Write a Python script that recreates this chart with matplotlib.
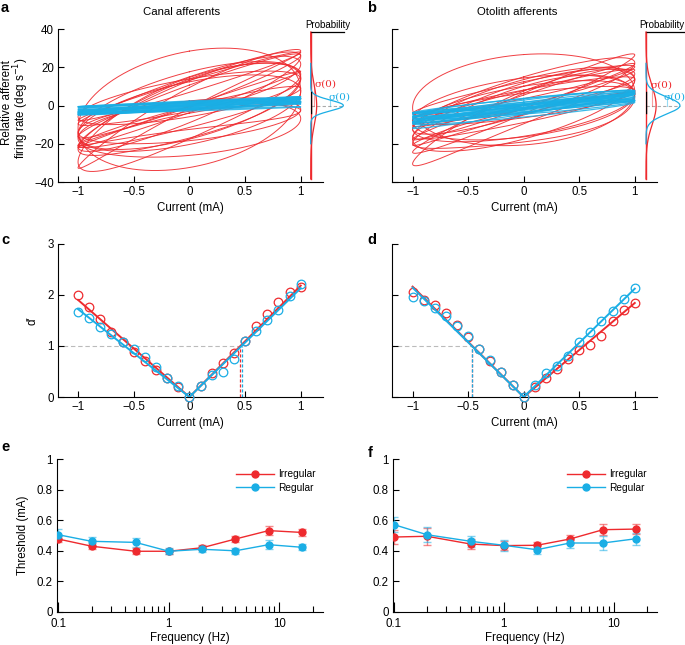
import numpy as np
import matplotlib
matplotlib.use("Agg")
import matplotlib.pyplot as plt

plt.rcParams['font.family'] = ['Liberation Sans', 'DejaVu Sans']
FS = 8.3
plt.rcParams['font.size'] = FS

RED = '#EE2A2E'
BLUE = '#1AAEE5'

# ---------------- data ----------------
# loop parameters (gain, phase deg, bias, 2nd-harmonic gain, 2nd-harmonic phase deg)
canal_irr_gain = [32, 31, 26, 24, 22, 20, 18, 16, 14, 28, 12, 20, 10, 23, 15, 18]
canal_irr_phase = [72, 10, 25, 40, 15, 55, 30, 20, 45, 35, 60, 5, 25, 50, 70, 10]
canal_irr_bias = [-2, 1, 2, -3, 5, -4, 6, -6, 4, -4, -8, -2, -10, 0, -12, 10]
canal_irr_h2 = [0, 3, 0, 2, 0, 0, 2, 0, 0, 3, 0, 0, 2, 0, 0, 0]
canal_irr_h2phase = [0, 90, 0, 45, 0, 0, 0, 0, 0, 120, 0, 0, 60, 0, 0, 0]

canal_reg_gain = [3, 2.5, 4, 2, 3.5, 1.5, 3, 2.8, 4.2, 2.2, 3.3, 1.8, 3.8, 2.6]
canal_reg_phase = [10, 15, 8, 20, 12, 25, 18, 5, 15, 10, 22, 12, 20, 8]
canal_reg_bias = [0, -1, 0.5, -0.5, -1.5, 0.5, 1, -2, -0.5, 1.5, -1, -2.5, 0, 2]

oto_irr_gain = [24, 25, 20, 18, 15, 22, 12, 16, 20, 14, 10, 26, 17, 13, 19]
oto_irr_phase = [80, 20, 10, 35, 15, 45, 25, 55, 30, 5, 40, 12, 65, 20, 50]
oto_irr_bias = [3, -4, 2, 0, 4, -2, 3, -3, 5, -5, 0, 1, -1, 8, -6]
oto_irr_h2 = [0, 3, 0, 2, 0, 0, 0, 0, 0, 2, 0, 0, 0, 0, 3]
oto_irr_h2phase = [0, 90, 0, 45, 0, 0, 0, 0, 0, 120, 0, 0, 0, 0, 30]

oto_reg_gain = [6, 7, 5, 8, 4, 9, 6.5, 5.5, 7.5, 4.5, 8.5, 6, 5, 7, 3.5, 6]
oto_reg_phase = [10, 15, 8, 20, 12, 10, 25, 5, 18, 22, 8, 15, 30, 5, 10, 20]
oto_reg_bias = [0, -2, 1, -1, 0, -3, 1, -3, 0.5, -1.5, -1, 2, -2, -0.5, -0.5, -4]

# probability distributions at zero current: sigma, peak height (fraction of inset)
canal_sigma_irr, canal_sigma_reg = 10.0, 2.8
canal_peak_irr, canal_peak_reg = 0.18, 0.98
oto_sigma_irr, oto_sigma_reg = 10.0, 4.5
oto_peak_irr, oto_peak_reg = 0.26, 0.87

# d' vs current
current = [-1.0, -0.9, -0.8, -0.7, -0.6, -0.5, -0.4, -0.3, -0.2, -0.1, 0.0,
           0.1, 0.2, 0.3, 0.4, 0.5, 0.6, 0.7, 0.8, 0.9, 1.0]
canal_d_irr = [2.0, 1.77, 1.52, 1.28, 1.08, 0.89, 0.70, 0.52, 0.37, 0.20, 0.0,
               0.21, 0.46, 0.66, 0.87, 1.09, 1.38, 1.62, 1.85, 2.05, 2.16]
canal_d_reg = [1.67, 1.54, 1.37, 1.23, 1.07, 0.94, 0.78, 0.58, 0.37, 0.21, 0.0,
               0.21, 0.44, 0.49, 0.75, 1.10, 1.30, 1.50, 1.71, 1.97, 2.21]
oto_d_irr = [2.05, 1.90, 1.80, 1.64, 1.41, 1.17, 0.94, 0.71, 0.48, 0.23, 0.0,
             0.19, 0.37, 0.55, 0.75, 0.92, 1.01, 1.19, 1.48, 1.71, 1.84]
oto_d_reg = [1.95, 1.88, 1.74, 1.58, 1.39, 1.19, 0.94, 0.72, 0.48, 0.24, 0.0,
             0.24, 0.46, 0.60, 0.81, 1.07, 1.28, 1.48, 1.69, 1.92, 2.14]
# fitted slopes (negative side, positive side)
canal_slope_irr = (1.90, 2.18)
canal_slope_reg = (1.72, 2.13)
oto_slope_irr = (2.16, 1.84)
oto_slope_reg = (2.14, 2.12)

# threshold vs frequency
freq = [0.1, 0.2, 0.5, 1, 2, 4, 8, 16]
canal_thr_irr = [0.477, 0.430, 0.397, 0.397, 0.420, 0.477, 0.532, 0.520]
canal_err_irr = [0.020, 0.020, 0.020, 0.015, 0.015, 0.020, 0.030, 0.025]
canal_thr_reg = [0.505, 0.462, 0.455, 0.397, 0.410, 0.400, 0.440, 0.423]
canal_err_reg = [0.035, 0.030, 0.030, 0.020, 0.020, 0.020, 0.030, 0.020]
oto_thr_irr = [0.490, 0.495, 0.444, 0.434, 0.436, 0.477, 0.538, 0.542]
oto_err_irr = [0.045, 0.055, 0.035, 0.030, 0.020, 0.025, 0.035, 0.035]
oto_thr_reg = [0.571, 0.505, 0.462, 0.436, 0.407, 0.451, 0.451, 0.479]
oto_err_reg = [0.050, 0.050, 0.035, 0.035, 0.030, 0.035, 0.045, 0.040]

# ---------------- figure ----------------
W, H = 685, 645
fig = plt.figure(figsize=(W / 100, H / 100), dpi=100)


def ax_px(l, t, r, b):
    return fig.add_axes([l / W, 1 - b / H, (r - l) / W, (b - t) / H])


def style(ax, ticklen=4.5):
    for s in ('top', 'right'):
        ax.spines[s].set_visible(False)
    for s in ('left', 'bottom'):
        ax.spines[s].set_linewidth(0.8)
    ax.tick_params(direction='in', length=ticklen, width=0.8, pad=3, labelsize=FS)


xt = [-1, -0.5, 0, 0.5, 1]
xtl = ['\u22121', '\u22120.5', '0', '0.5', '1']

t = np.linspace(0, 2 * np.pi, 300)


def draw_loops(ax, gain, phase, bias, color, h2=None, h2p=None, lw=0.8, alpha=0.9, z=2):
    for i in range(len(gain)):
        ph = np.deg2rad(phase[i])
        y = bias[i] + gain[i] * np.sin(t + ph)
        if h2 is not None:
            y = y + h2[i] * np.sin(2 * t + np.deg2rad(h2p[i]))
        ax.plot(np.sin(t), y, color=color, lw=lw, alpha=alpha, zorder=z)


def prob_inset(l, r, sig_i, sig_r, pk_i, pk_r):
    ia = ax_px(l, 29, r, 182)
    ia.set_xlim(0, 1)
    ia.set_ylim(-40, 40)
    ia.axis('off')
    top = 38.4
    ia.plot([0, 0], [-top, top], color=RED, lw=1.0, clip_on=False, zorder=2)
    ia.plot([0, 1], [top, top], color='black', lw=0.9, clip_on=False)
    yy = np.linspace(-top, top, 400)
    ia.plot(pk_i * np.exp(-yy ** 2 / (2 * sig_i ** 2)), yy, color=RED, lw=0.9, clip_on=False, zorder=3)
    yb = np.linspace(-20, 22, 400)
    ia.plot(pk_r * np.exp(-yb ** 2 / (2 * sig_r ** 2)), yb, color=BLUE, lw=0.9, clip_on=False, zorder=4)
    ia.plot([0, 0], [-4, 7], color='black', lw=1.0, zorder=5)
    ia.plot([0, pk_r], [0, 0], color='#AAAAAA', lw=0.8, ls=(0, (3, 2)), clip_on=False, zorder=1)
    xi = pk_i * np.exp(-0.5)
    xr = pk_r * np.exp(-0.5)
    ia.plot([xi, xi], [0, sig_i], color=RED, lw=0.8, alpha=0.45)
    ia.plot([xr, xr], [0, sig_r], color=BLUE, lw=0.8, alpha=0.45)
    return ia


# ----- panel a -----
axa = ax_px(58, 29, 323, 182)
draw_loops(axa, canal_irr_gain, canal_irr_phase, canal_irr_bias, RED, canal_irr_h2, canal_irr_h2phase, lw=0.7, alpha=0.9, z=2)
draw_loops(axa, canal_reg_gain, canal_reg_phase, canal_reg_bias, BLUE, lw=0.9, alpha=0.85, z=3)
axa.set_xlim(-1.18, 1.2)
axa.set_ylim(-40, 40)
axa.set_yticks([-40, -20, 0, 20, 40])
axa.set_yticklabels(['\u221240', '\u221220', '0', '20', '40'])
axa.set_xticks(xt)
axa.set_xticklabels(xtl)
style(axa)
axa.set_xlabel('Current (mA)', fontsize=FS, labelpad=3)
fig.text(7.0 / W, 1 - 103 / H, 'Relative afferent', rotation=90,
         ha='center', va='center', fontsize=8.4)
fig.text(21.5 / W, 1 - 108 / H, 'firing rate (deg s$^{\u22121}$)', rotation=90,
         ha='center', va='center', fontsize=8.4)
ia = prob_inset(310.7, 344, canal_sigma_irr, canal_sigma_reg, canal_peak_irr, canal_peak_reg)
fig.text(327.5 / W, 1 - 24.5 / H, 'Probability', ha='center', va='center', fontsize=7)
ia.text(0.43, 11.2, '\u03c3(0)', color=RED, ha='center', va='center', fontsize=7.5, family=['DejaVu Serif'])
ia.text(0.85, 4.4, '\u03c3(0)', color=BLUE, ha='center', va='center', fontsize=7.5, family=['DejaVu Serif'])

# ----- panel b -----
axb = ax_px(391.5, 29, 657, 182)
draw_loops(axb, oto_irr_gain, oto_irr_phase, oto_irr_bias, RED, oto_irr_h2, oto_irr_h2phase, lw=0.7, alpha=0.9, z=2)
draw_loops(axb, oto_reg_gain, oto_reg_phase, oto_reg_bias, BLUE, lw=0.9, alpha=0.85, z=3)
axb.set_xlim(-1.19, 1.2)
axb.set_ylim(-40, 40)
axb.set_yticks([-40, -20, 0, 20, 40])
axb.set_yticklabels([])
axb.set_xticks(xt)
axb.set_xticklabels(xtl)
style(axb)
axb.set_xlabel('Current (mA)', fontsize=FS, labelpad=3)
ib = prob_inset(646, 685, oto_sigma_irr, oto_sigma_reg, oto_peak_irr, oto_peak_reg)
fig.text(684 / W, 1 - 24.5 / H, 'Probability', ha='right', va='center', fontsize=7)
ib.text(0.41, 10.5, '\u03c3(0)', color=RED, ha='center', va='center', fontsize=7.5, family=['DejaVu Serif'])
ib.text(0.74, 4.4, '\u03c3(0)', color=BLUE, ha='center', va='center', fontsize=7.5, family=['DejaVu Serif'])


# ----- panels c, d -----
def dprime(ax, d_irr, d_reg, s_irr, s_reg, side):
    cur = np.array(current)
    for d, s, c, z in ((d_irr, s_irr, RED, 3), (d_reg, s_reg, BLUE, 4)):
        ax.plot(cur, d, 'o', mfc='none', mec=c, ms=6.2, mew=0.9, clip_on=False, zorder=z)
        ax.plot([-1, 0], [s[0], 0], color=c, lw=1.4, zorder=z)
        ax.plot([0, 1], [0, s[1]], color=c, lw=1.4, zorder=z)
    thr_i = 1 / s_irr[side] * (1 if side == 1 else -1)
    thr_r = 1 / s_reg[side] * (1 if side == 1 else -1)
    far = max(abs(thr_i), abs(thr_r)) * np.sign(thr_i)
    ax.plot([-1.2, far], [1, 1], color='#BBBBBB', lw=0.8, ls=(0, (4, 2.5)), zorder=1)
    ax.plot([thr_i, thr_i], [0, 1], color=RED, lw=0.9, ls=(0, (2.5, 1.5)), zorder=2)
    ax.plot([thr_r, thr_r], [0, 1], color=BLUE, lw=0.9, ls=(0, (2.5, 1.5)), zorder=2)
    ax.set_ylim(0, 3)
    ax.set_xticks(xt)
    ax.set_xticklabels(xtl)
    ax.set_yticks([0, 1, 2, 3])
    style(ax)
    ax.set_xlabel('Current (mA)', fontsize=FS, labelpad=3)


axc = ax_px(58, 243.7, 323, 397)
axc.set_xlim(-1.18, 1.2)
dprime(axc, canal_d_irr, canal_d_reg, canal_slope_irr, canal_slope_reg, 1)
axc.set_ylabel('d\u2032', fontsize=FS)
axc.yaxis.set_label_coords(-0.075, 0.5)

axd = ax_px(391.5, 243.7, 657, 397)
axd.set_xlim(-1.19, 1.2)
dprime(axd, oto_d_irr, oto_d_reg, oto_slope_irr, oto_slope_reg, 0)
axd.set_yticklabels([])


# ----- panels e, f -----
def thresh(ax, ti, ei, tr, er, lx):
    for th, er_, c, lab in ((ti, ei, RED, 'Irregular'), (tr, er, BLUE, 'Regular')):
        ax.errorbar(freq, th, yerr=er_, fmt='none', ecolor=c, alpha=0.55, elinewidth=1.0,
                    capsize=2.8, capthick=1.0, zorder=2)
        ax.plot(freq, th, '-o', color=c, lw=1.0, ms=5, label=lab, zorder=3)
    ax.set_xscale('log')
    ax.set_ylim(0, 1)
    ax.set_yticks([0, 0.2, 0.4, 0.6, 0.8, 1])
    ax.set_yticklabels(['0', '0.2', '0.4', '0.6', '0.8', '1'])
    ax.set_xticks([0.1, 1, 10])
    ax.set_xticklabels(['0.1', '1', '10'])
    style(ax)
    ax.tick_params(axis='x', which='major', length=7, pad=4)
    ax.tick_params(axis='x', which='minor', direction='in', length=4, width=0.8)
    ax.set_xlabel('Frequency (Hz)', fontsize=FS, labelpad=2)
    ax.legend(loc='upper left', bbox_to_anchor=(lx, 0.965), frameon=False, fontsize=7.3,
              handlelength=3.7, handletextpad=0.45, labelspacing=0.35, borderpad=0)


axe = ax_px(57, 459, 323, 612)
axe.set_xlim(0.0973, 24.8)
thresh(axe, canal_thr_irr, canal_err_irr, canal_thr_reg, canal_err_reg, 0.655)
axe.set_ylabel('Threshold (mA)', fontsize=FS)
axe.yaxis.set_label_coords(-0.105, 0.5)

axf = ax_px(393, 459, 657, 612)
axf.set_xlim(0.098, 24.8)
thresh(axf, oto_thr_irr, oto_err_irr, oto_thr_reg, oto_err_reg, 0.64)

# titles and panel letters
fig.text(182 / W, 1 - 12 / H, 'Canal afferents', ha='center', va='center', fontsize=8.2)
fig.text(517 / W, 1 - 12 / H, 'Otolith afferents', ha='center', va='center', fontsize=8.2)
for lab, x, y in (('a', 5, 8), ('b', 372, 8), ('c', 5, 240), ('d', 372, 240), ('e', 5, 447), ('f', 370, 453)):
    fig.text(x / W, 1 - y / H, lab, ha='center', va='center', fontsize=10.5, fontweight='bold')

fig.savefig('out.png', dpi=100)
